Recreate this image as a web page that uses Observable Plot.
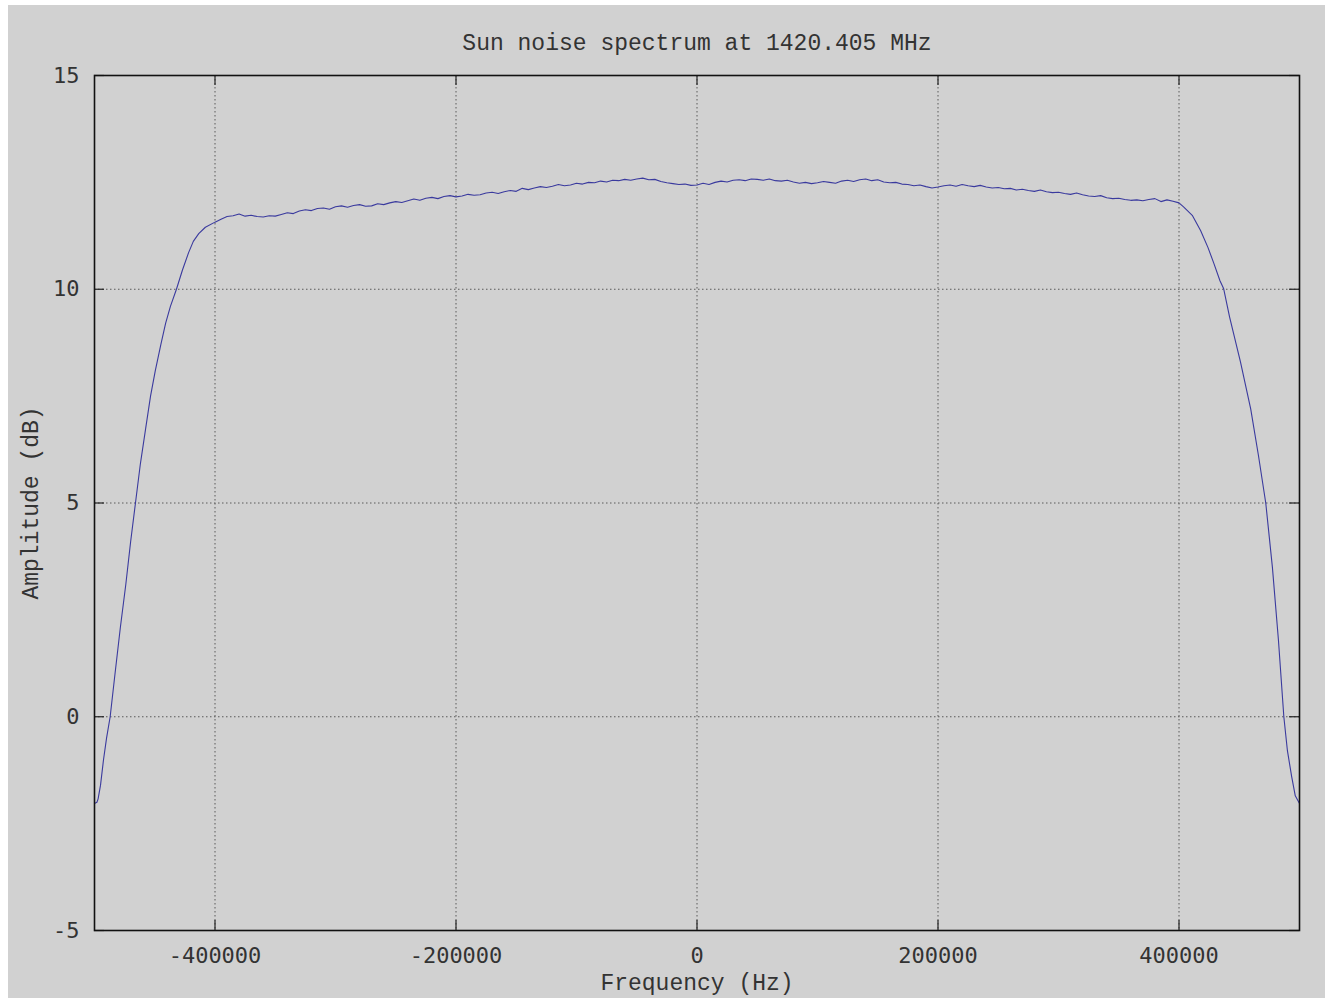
<!DOCTYPE html>
<html>
<head>
<meta charset="utf-8">
<script src="https://cdn.jsdelivr.net/npm/d3@7"></script>
<script src="https://cdn.jsdelivr.net/npm/@observablehq/plot@0.6"></script>
<style>
  html, body { margin: 0; padding: 0; background: #ffffff; overflow: hidden; }
  #chart { position: absolute; left: 8px; top: 5px; width: 1317px; height: 993px; background: #d1d1d1; }
  #chart svg { display: block; }
</style>
</head>
<body>
<div id="chart"></div>
<script>
const titleText = "Sun noise spectrum at 1420.405 MHz";
const xLabel = "Frequency (Hz)";
const yLabel = "Amplitude (dB)";
const xTicks = [-400000, -200000, 0, 200000, 400000];
const yTicks = [-5, 0, 5, 10, 15];

// [frequency Hz, amplitude dB]
const riseEdge = [
  [-500000, -2.03], [-498000, -2.00], [-497000, -1.92], [-495000, -1.60],
  [-492500, -1.00], [-490000, -0.50], [-487000, 0.00], [-483000, 1.00],
  [-478500, 2.10], [-474000, 3.10], [-470000, 4.10], [-466000, 5.00],
  [-462000, 5.90], [-457500, 6.75], [-453500, 7.50], [-449500, 8.10],
  [-445000, 8.70], [-441000, 9.20], [-437000, 9.60], [-432000, 10.00],
  [-427000, 10.45], [-422000, 10.85], [-418000, 11.12], [-413500, 11.30],
  [-408000, 11.45]
];

const passband = [
  [-400000, 11.57], [-395000, 11.64], [-390000, 11.70], [-385000, 11.72], [-380000, 11.76],
  [-375000, 11.71], [-370000, 11.73], [-365000, 11.70], [-360000, 11.69], [-355000, 11.72],
  [-350000, 11.71], [-345000, 11.75], [-340000, 11.79], [-335000, 11.77], [-330000, 11.83],
  [-325000, 11.86], [-320000, 11.84], [-315000, 11.89], [-310000, 11.90], [-305000, 11.87],
  [-300000, 11.93], [-295000, 11.95], [-290000, 11.92], [-285000, 11.96], [-280000, 11.98],
  [-275000, 11.94], [-270000, 11.95], [-265000, 12.00], [-260000, 11.98], [-255000, 12.02],
  [-250000, 12.05], [-245000, 12.03], [-240000, 12.07], [-235000, 12.11], [-230000, 12.08],
  [-225000, 12.13], [-220000, 12.15], [-215000, 12.12], [-210000, 12.17], [-205000, 12.19],
  [-200000, 12.16], [-195000, 12.18], [-190000, 12.22], [-185000, 12.20], [-180000, 12.21],
  [-175000, 12.25], [-170000, 12.27], [-165000, 12.24], [-160000, 12.28], [-155000, 12.31],
  [-150000, 12.29], [-145000, 12.36], [-140000, 12.33], [-135000, 12.37], [-130000, 12.40],
  [-125000, 12.38], [-120000, 12.41], [-115000, 12.45], [-110000, 12.42], [-105000, 12.44],
  [-100000, 12.48], [-95000, 12.46], [-90000, 12.50], [-85000, 12.49], [-80000, 12.53],
  [-75000, 12.51], [-70000, 12.55], [-65000, 12.54], [-60000, 12.57], [-55000, 12.55],
  [-50000, 12.58], [-45000, 12.60], [-40000, 12.56], [-35000, 12.57], [-30000, 12.52],
  [-25000, 12.49], [-20000, 12.47], [-15000, 12.45], [-10000, 12.46], [-5000, 12.43],
  [0, 12.44], [5000, 12.48], [10000, 12.45], [15000, 12.50], [20000, 12.53],
  [25000, 12.51], [30000, 12.55], [35000, 12.56], [40000, 12.54], [45000, 12.58],
  [50000, 12.57], [55000, 12.55], [60000, 12.58], [65000, 12.54], [70000, 12.53],
  [75000, 12.55], [80000, 12.51], [85000, 12.48], [90000, 12.50], [95000, 12.47],
  [100000, 12.49], [105000, 12.52], [110000, 12.50], [115000, 12.48], [120000, 12.53],
  [125000, 12.55], [130000, 12.52], [135000, 12.56], [140000, 12.58], [145000, 12.54],
  [150000, 12.56], [155000, 12.51], [160000, 12.49], [165000, 12.50], [170000, 12.46],
  [175000, 12.45], [180000, 12.42], [185000, 12.44], [190000, 12.40], [195000, 12.37],
  [200000, 12.39], [205000, 12.42], [210000, 12.44], [215000, 12.41], [220000, 12.45],
  [225000, 12.42], [230000, 12.40], [235000, 12.43], [240000, 12.39], [245000, 12.37],
  [250000, 12.38], [255000, 12.35], [260000, 12.36], [265000, 12.32], [270000, 12.34],
  [275000, 12.31], [280000, 12.29], [285000, 12.32], [290000, 12.28], [295000, 12.26],
  [300000, 12.27], [305000, 12.24], [310000, 12.22], [315000, 12.25], [320000, 12.21],
  [325000, 12.18], [330000, 12.17], [335000, 12.19], [340000, 12.14], [345000, 12.12],
  [350000, 12.13], [355000, 12.10], [360000, 12.08], [365000, 12.09], [370000, 12.07],
  [375000, 12.10], [380000, 12.12], [385000, 12.05], [390000, 12.09], [395000, 12.06],
  [400000, 12.02]
];

const fallEdge = [
  [404000, 11.92], [411000, 11.73], [418000, 11.37], [424000, 10.98], [429000, 10.60],
  [434000, 10.20], [437000, 10.02], [442000, 9.35], [451000, 8.30], [459500, 7.20],
  [466000, 6.10], [472000, 5.00], [477500, 3.50], [482500, 1.80], [487000, 0.00],
  [490000, -0.80], [493500, -1.40], [496500, -1.85], [500000, -2.03]
];

const spectrum = [...riseEdge, ...passband, ...fallEdge].map(([f, a]) => ({f, a}));

const W = 1317, H = 993;
const mL = 86, mR = 26, mT = 70, mB = 68;
const frameW = W - mL - mR, frameH = H - mT - mB;
const tickLen = 10;

const serif = "'Liberation Mono', 'Courier New', monospace";
const sansMono = "'DejaVu Sans Mono', monospace";
const gridStyle = {stroke: "#5a5a5a", strokeOpacity: 1, strokeWidth: 1, strokeDasharray: "1.5,2.5"};

const chart = Plot.plot({
  width: W,
  height: H,
  marginLeft: mL,
  marginRight: mR,
  marginTop: mT,
  marginBottom: mB,
  style: {background: "#d1d1d1", color: "#333", fontFamily: serif, overflow: "visible"},
  x: {domain: [-500000, 500000], axis: null},
  y: {domain: [-5, 15], axis: null},
  marks: [
    Plot.gridX(xTicks, gridStyle),
    Plot.gridY(yTicks, gridStyle),
    Plot.line(spectrum, {x: "f", y: "a", stroke: "#3a3a9e", strokeWidth: 1.1}),
    Plot.tickX(xTicks, {x: d => d, stroke: "#222", strokeWidth: 1.2, insetTop: frameH - tickLen}),
    Plot.tickX(xTicks, {x: d => d, stroke: "#222", strokeWidth: 1.2, insetBottom: frameH - tickLen}),
    Plot.tickY(yTicks, {y: d => d, stroke: "#222", strokeWidth: 1.2, insetRight: frameW - tickLen}),
    Plot.tickY(yTicks, {y: d => d, stroke: "#222", strokeWidth: 1.2, insetLeft: frameW - tickLen}),
    Plot.frame({stroke: "#111", strokeWidth: 1.6}),
    Plot.text(xTicks, {x: d => d, text: d => String(d), frameAnchor: "bottom", lineAnchor: "middle", dy: 25,
      fontFamily: sansMono, fontSize: 22, fill: "#333"}),
    Plot.text(yTicks, {y: d => d, text: d => String(d), frameAnchor: "left", textAnchor: "end", lineAnchor: "middle", dx: -15,
      fontFamily: sansMono, fontSize: 22, fill: "#333"}),
    Plot.text([titleText], {text: d => d, frameAnchor: "top", lineAnchor: "middle", dy: -33,
      fontFamily: serif, fontSize: 23, fill: "#333"}),
    Plot.text([xLabel], {text: d => d, frameAnchor: "bottom", lineAnchor: "middle", dy: 52,
      fontFamily: serif, fontSize: 23, fill: "#333"}),
    Plot.text([yLabel], {text: d => d, frameAnchor: "left", textAnchor: "middle", lineAnchor: "middle", dx: -64, rotate: -90,
      fontFamily: serif, fontSize: 23, fill: "#333"})
  ]
});
document.getElementById("chart").appendChild(chart);
</script>
</body>
</html>
